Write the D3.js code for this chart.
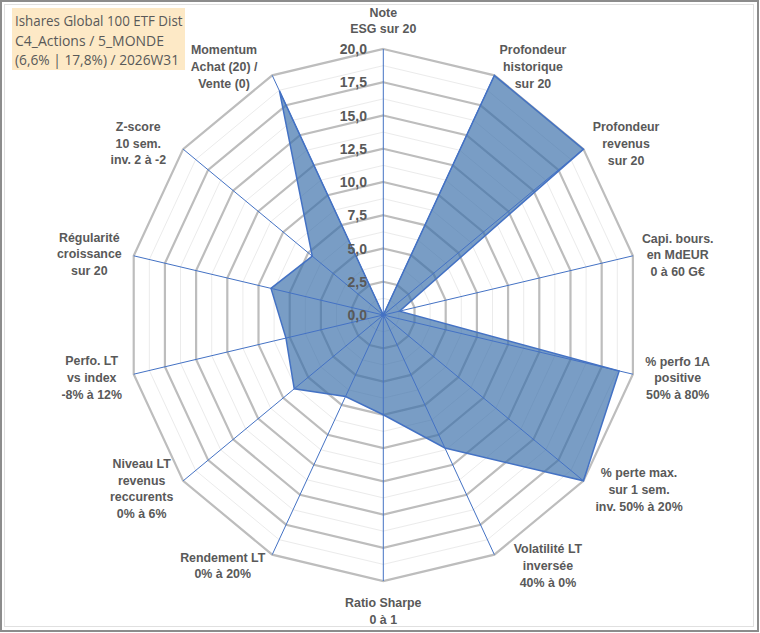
<!DOCTYPE html>
<html><head><meta charset="utf-8">
<script src="https://cdn.jsdelivr.net/npm/d3@7"></script>
<style>html,body{margin:0;padding:0;background:#fff;}svg{display:block;}</style>
</head><body>
<svg id="c" width="760" height="633"></svg>
<script>
// ---- data ----
const categories = [
  ["Note","ESG sur 20"],
  ["Profondeur","historique","sur 20"],
  ["Profondeur","revenus","sur 20"],
  ["Capi. bours.","en MdEUR","0 à 60 G€"],
  ["% perfo 1A","positive","50% à 80%"],
  ["% perte max.","sur 1 sem.","inv. 50% à 20%"],
  ["Volatilité LT","inversée","40% à 0%"],
  ["Ratio Sharpe","0 à 1"],
  ["Rendement LT","0% à 20%"],
  ["Niveau LT","revenus","reccurents","0% à 6%"],
  ["Perfo. LT","vs index","-8% à 12%"],
  ["Régularité","croissance","sur 20"],
  ["Z-score","10 sem.","inv. 2 à -2"],
  ["Momentum","Achat (20) /","Vente (0)"]
];
const values = [0, 20, 20, 1.3, 18.9, 20, 11.1, 7.5, 6.8, 8.9, 7.8, 9.0, 7.1, 18.7];
const tickValues = [0, 2.5, 5, 7.5, 10, 12.5, 15, 17.5, 20];
const minorTickValues = [1.25, 3.75, 6.25, 8.75, 11.25, 13.75, 16.25, 18.75];
const titleLines = ["Ishares Global 100 ETF Dist", "C4_Actions / 5_MONDE", "(6,6% | 17,8%) / 2026W31"];

// ---- layout ----
const cx = 383.3, cy = 315, ry = 266, rx = 256;
const labelOffsets = [[0,-28.5],[38.6,-8.8],[42.6,-5.6],[44.8,-0.8],[44.8,3.8],[55.6,8.6],[53.6,10.8],
  [0,30],[-49.5,10.8],[-41.5,7.6],[-42,3.3],[-44.4,-1.8],[-44.9,-5.8],[-48.2,-8.8]];

const svg = d3.select("#c");
const n = categories.length;
const r = d3.scaleLinear().domain([0, 20]).range([0, ry]);
const kx = rx / ry;
const ang = d3.scaleLinear().domain([0, n]).range([0, 2 * Math.PI]);
const px = (i, v) => cx + r(v) * Math.sin(ang(i)) * kx;
const py = (i, v) => cy - r(v) * Math.cos(ang(i));
const idx = d3.range(n);

// frame
svg.append("rect").attr("x", 1).attr("y", 1).attr("width", 757).attr("height", 630)
  .attr("fill", "#fff").attr("stroke", "#8c8c8c").attr("stroke-width", 2);
svg.append("rect").attr("x", 4.5).attr("y", 4.5).attr("width", 749).attr("height", 622)
  .attr("fill", "none").attr("stroke", "#e0e0e0").attr("stroke-width", 1);

const ringLine = v => idx.map(i => [px(i, v), py(i, v)]);
const closed = d3.line().curve(d3.curveLinearClosed);

// minor rings
svg.append("g").selectAll("path").data(minorTickValues).join("path")
  .attr("d", v => closed(ringLine(v))).attr("fill", "none")
  .attr("stroke", "#ebebeb").attr("stroke-width", 1);
// major rings
svg.append("g").selectAll("path").data(tickValues.filter(v => v > 0)).join("path")
  .attr("d", v => closed(ringLine(v))).attr("fill", "none")
  .attr("stroke", "#bdbdbd").attr("stroke-width", 2.2);

// data polygon
svg.append("path")
  .attr("d", closed(idx.map(i => [px(i, values[i]), py(i, values[i])])))
  .attr("fill", "#3a6eaa").attr("fill-opacity", 0.68)
  .attr("stroke", "#4472c4").attr("stroke-width", 1.5).attr("stroke-linejoin", "miter");

// spokes
svg.append("g").selectAll("line").data(idx).join("line")
  .attr("x1", cx).attr("y1", cy)
  .attr("x2", i => px(i, 20)).attr("y2", i => py(i, 20))
  .attr("stroke", "#4472c4").attr("stroke-width", 1);

// tick labels
const fmt = v => d3.format(".1f")(v).replace(".", ",");
svg.append("g").selectAll("text").data(tickValues).join("text")
  .attr("x", 367).attr("y", v => cy - r(v)).attr("dy", "0.36em")
  .attr("text-anchor", "end")
  .attr("font-family", "Liberation Sans, Arial, sans-serif").attr("font-weight", "bold")
  .attr("font-size", 14).attr("fill", "#595959")
  .text(fmt);

// category labels
const lh = 16.6;
const lg = svg.append("g").attr("font-family", "Liberation Sans, Arial, sans-serif")
  .attr("font-weight", "bold").attr("font-size", 12.4).attr("fill", "#595959").attr("text-anchor", "middle");
idx.forEach(i => {
  const lines = categories[i];
  const x0 = px(i, 20) + labelOffsets[i][0];
  const y0 = py(i, 20) + labelOffsets[i][1] - (lines.length - 1) * lh / 2;
  const t = lg.append("text").attr("x", x0).attr("y", y0);
  lines.forEach((s, k) => {
    t.append("tspan").attr("x", x0).attr("y", y0 + k * lh).attr("dy", "0.36em").text(s);
  });
});

// title box
svg.append("rect").attr("x", 12).attr("y", 8).attr("width", 173).attr("height", 62)
  .attr("fill", "#fde9c6");
svg.append("g").selectAll("text").data(titleLines).join("text")
  .attr("x", 15).attr("y", (d, k) => 21 + k * 19.5).attr("dy", "0.36em")
  .attr("font-family", "Open Sans, Lato, sans-serif").attr("font-size", 14.5).attr("fill", "#595959")
  .attr("textLength", (d, k) => [167.5, 149, 164][k]).attr("lengthAdjust", "spacingAndGlyphs")
  .text(d => d);
</script>
</body></html>
